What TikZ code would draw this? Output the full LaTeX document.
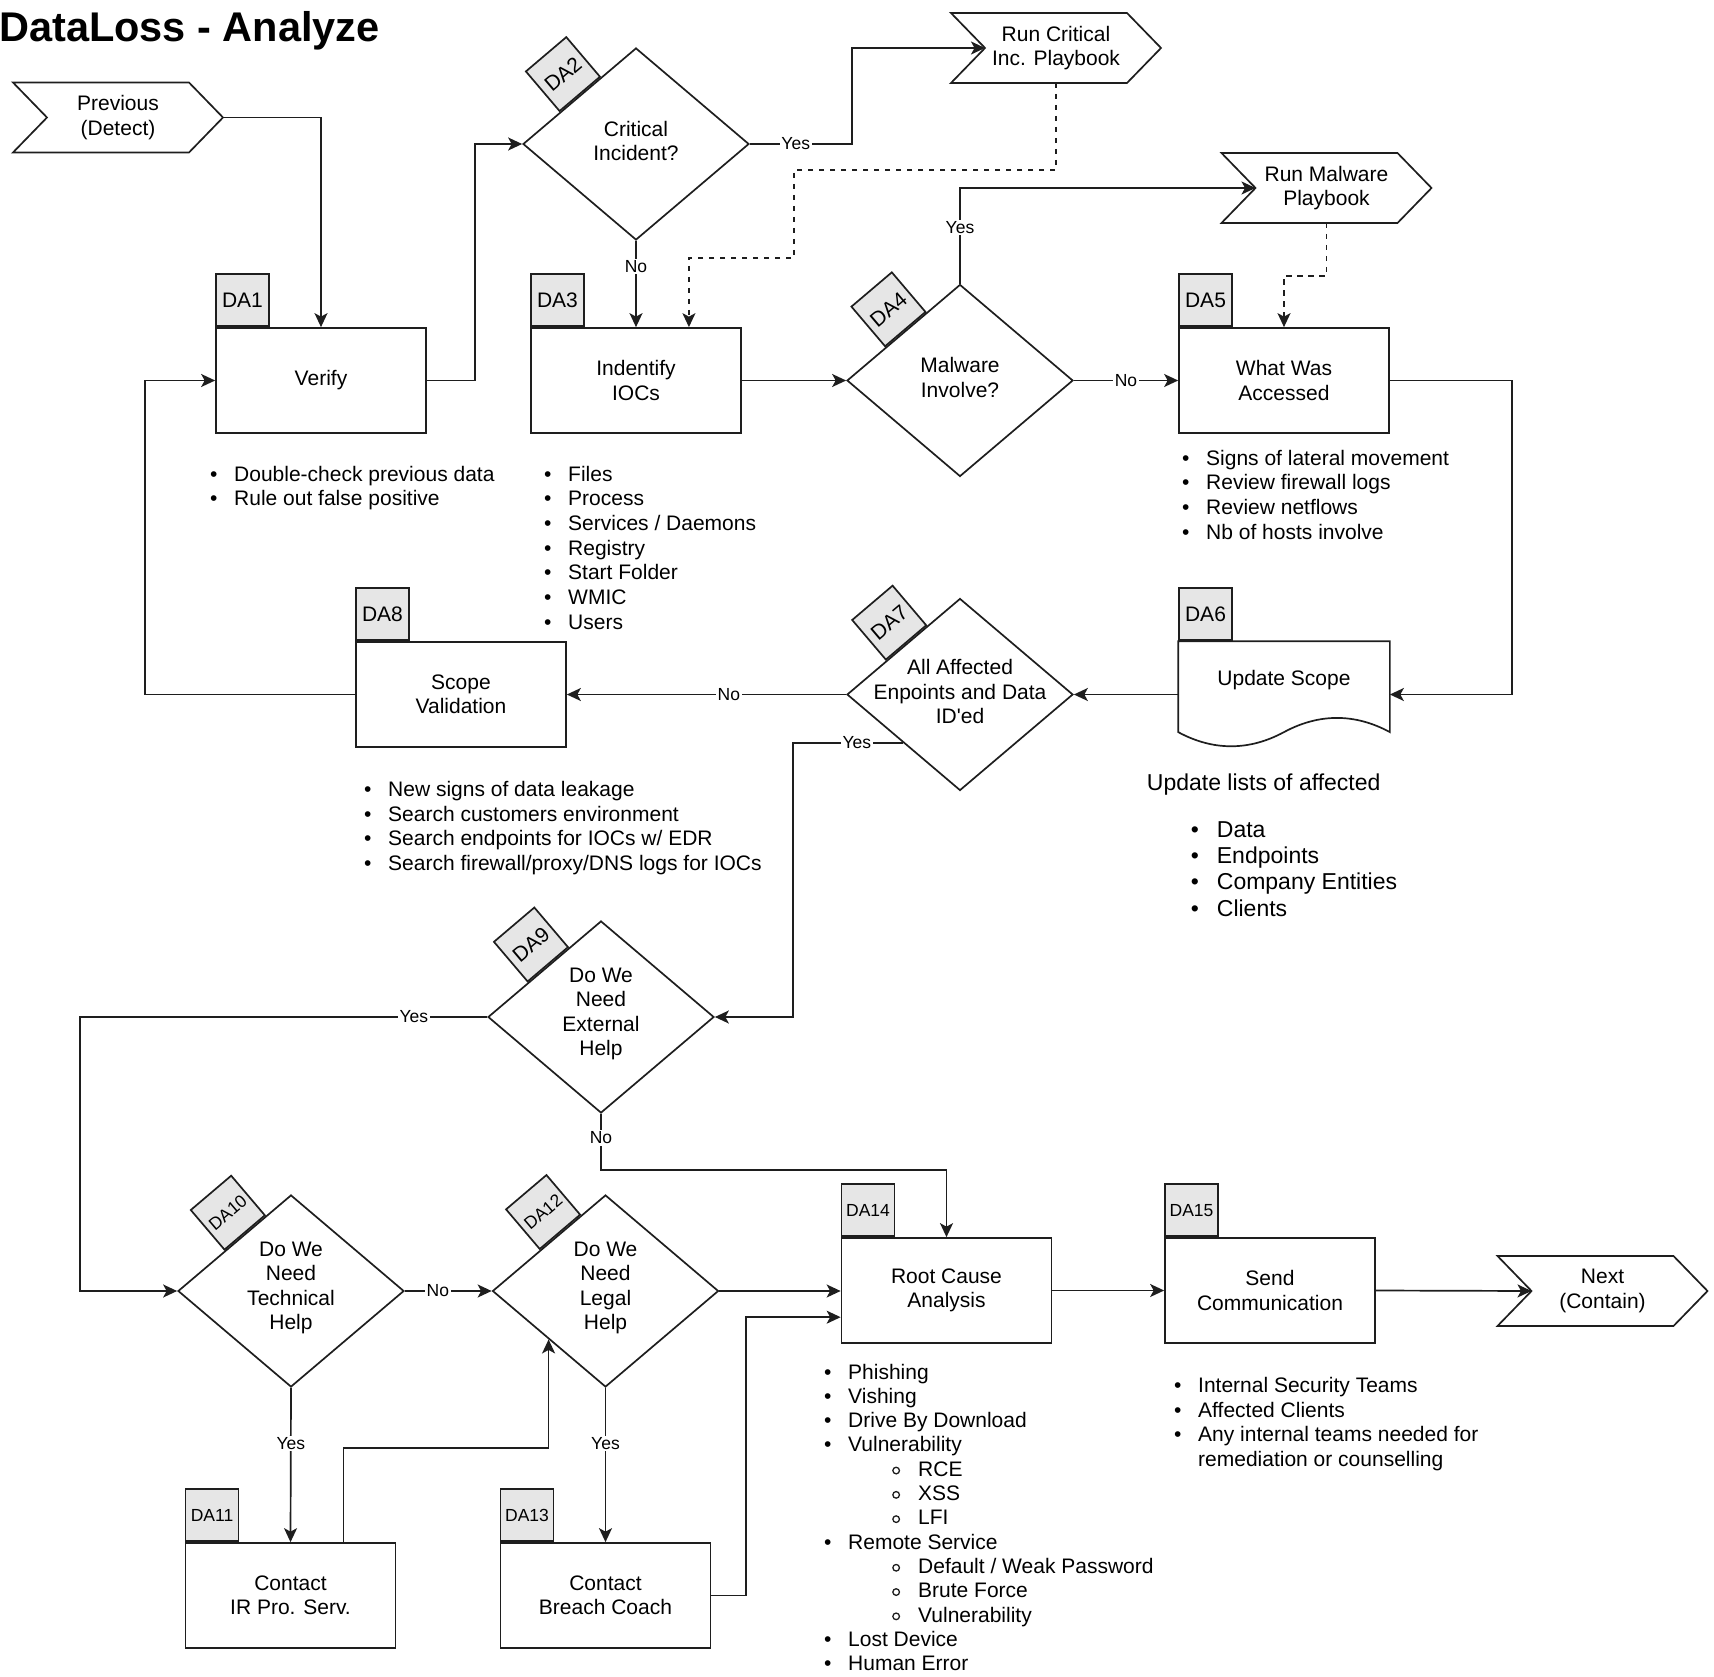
\documentclass[tikz,border=0pt]{standalone}
\usepackage{fontspec}
\setmainfont{Liberation Sans}[Ligatures=TeXOff]
\usetikzlibrary{arrows.meta,calc,shapes.geometric}
\definecolor{tabgray}{RGB}{230,230,230}
\definecolor{linegray}{RGB}{30,30,30}
\newcommand\dlbody{\fontsize{21}{24.5}\selectfont}
\newcommand\dlsmall{\fontsize{17.5}{21}\selectfont}
\newcommand\dlbig{\fontsize{23}{26}\selectfont}
\newcommand\dltitle{\fontsize{41.5}{48}\selectfont\bfseries}
\newcommand\dlring{\raisebox{1.7pt}{\tikz\draw[line width=1.3pt, draw=linegray] (0,0) circle (3.3pt);}}
\newcommand\dlbi[1]{\makebox[24pt][l]{•}#1}
\newcommand\dlsi[1]{\hspace*{68pt}\makebox[26pt][l]{\dlring}#1}
\newcommand\dlci[1]{\hspace*{24pt}#1}
\newcommand\dlbbi[1]{\makebox[26pt][l]{•}#1}
\newcommand\dlchevron[1]{\draw[dlline] (#1.north west) -- ($(#1.north east)+(-34,0)$) -- (#1.east) -- ($(#1.south east)+(-34,0)$) -- (#1.south west) -- ($(#1.west)+(34,0)$) -- cycle;}
\begin{document}
\begin{tikzpicture}[x=1pt,y=-1pt,
  dlline/.style={line width=1.7pt, draw=linegray},
  dlarr/.style={dlline, -{Stealth[length=14pt,width=13pt,inset=3.5pt]}},
  dldash/.style={dash pattern=on 5.5pt off 5.5pt},
  dlbox/.style={dlline, shape=rectangle, minimum width=210pt, minimum height=105pt, inner sep=0pt, align=center, font=\dlbody},
  dltab/.style={dlline, fill=tabgray, shape=rectangle, minimum width=53pt, minimum height=52pt, inner sep=0pt, font=\dlbody},
  dlstab/.style={dltab, font=\dlsmall},
  dldia/.style={dlline, shape=diamond, minimum width=226pt, minimum height=192pt, inner sep=0pt},
  dldtxt/.style={align=center, font=\dlbody, inner sep=0pt, yshift=3pt},
  dlchev/.style={shape=rectangle, minimum width=210pt, minimum height=70pt, inner sep=0pt, outer sep=0pt, align=center, font=\dlbody},
  dllbl/.style={font=\dlsmall, fill=white, inner sep=1.5pt},
  dlitem/.style={font=\dlbody, inner sep=0pt, anchor=base west},
  dlbitem/.style={font=\dlbig, inner sep=0pt, anchor=base west},
]
\useasboundingbox (0,0) rectangle (1714,1677);

% title
\node[font=\dltitle, inner sep=0pt, anchor=base west] (title) at (-1,42) {DataLoss - Analyze};

% chevrons
\node[dlchev] (prev) at (118,117.5) {Previous\\(Detect)};
\node[dlchev] (crit) at (1056,48) {Run Critical\\Inc. Playbook};
\node[dlchev] (malw) at (1326.5,188) {Run Malware\\Playbook};
\node[dlchev] (next) at (1602.5,1291) {Next\\(Contain)};
\dlchevron{prev}
\dlchevron{crit}
\dlchevron{malw}
\dlchevron{next}
\coordinate (critIn) at ($(crit.west)+(34,0)$);
\coordinate (malwIn) at ($(malw.west)+(34,0)$);
\coordinate (nextIn) at ($(next.west)+(34,0)$);

% boxes
\node[dlbox] (verify) at (321,380.5) {Verify};
\node[dlbox] (ioc) at (636,380.5) {Indentify\\IOCs};
\node[dlbox] (what) at (1284,380.5) {What Was\\Accessed};
\node[dlbox, draw=none] (update) at (1284,694.5) {};
\draw[dlline] (update.north west) -- (update.north east) -- ($(update.south east)+(0,-15.75)$)
  .. controls ($(update.south east)+(-35,-34.65)$) and ($(update.south)+(35,-34.65)$) .. ($(update.south)+(0,-15.75)$)
  .. controls ($(update.south)+(-35,3.15)$) and ($(update.south west)+(35,3.15)$) .. ($(update.south west)+(0,-15.75)$) -- cycle;
\node[font=\dlbody, inner sep=0pt] (updtxt) at (1284,680) {Update Scope};
\node[dlbox] (scope) at (461,694.5) {Scope\\Validation};
\node[dlbox] (ir) at (290.5,1595.5) {Contact\\IR Pro. Serv.};
\node[dlbox] (breach) at (605.5,1595.5) {Contact\\Breach Coach};
\node[dlbox] (rca) at (946.5,1290.5) {Root Cause\\Analysis};
\node[dlbox] (comm) at (1270,1290.5) {Send\\Communication};

% box tabs
\node[dltab, anchor=south west] (t1) at (verify.north west) {DA1};
\node[dltab, anchor=south west] (t3) at (ioc.north west) {DA3};
\node[dltab, anchor=south west] (t5) at (what.north west) {DA5};
\node[dltab, anchor=south west] (t6) at (update.north west) {DA6};
\node[dltab, anchor=south west] (t8) at (scope.north west) {DA8};
\node[dlstab, anchor=south west] (t11) at (ir.north west) {DA11};
\node[dlstab, anchor=south west] (t13) at (breach.north west) {DA13};
\node[dlstab, anchor=south west] (t14) at (rca.north west) {DA14};
\node[dlstab, anchor=south west] (t15) at (comm.north west) {DA15};

% diamonds
\node[dldia] (d2) at (636,144) {};
\node[dldtxt] (d2t) at (d2.center) {Critical\\Incident?};
\node[dltab, rotate=40.35, anchor=south west] (t2) at ($(d2.west)!49pt!(d2.north)$) {DA2};

\node[dldia] (d4) at (960,380.5) {};
\node[dldtxt] (d4t) at (d4.center) {Malware\\Involve?};
\node[dltab, rotate=40.35, anchor=south west] (t4) at ($(d4.west)!51pt!(d4.north)$) {DA4};

\node[dldia] (d7) at (960,694.5) {};
\node[dldtxt] (d7t) at (d7.center) {All Affected\\Enpoints and Data\\ID'ed};
\node[dltab, rotate=40.35, anchor=south west] (t7) at ($(d7.west)!52pt!(d7.north)$) {DA7};

\node[dldia] (d9) at (601,1017) {};
\node[dldtxt] (d9t) at (d9.center) {Do We\\Need\\External\\Help};
\node[dltab, rotate=40.35, anchor=south west] (t9) at ($(d9.west)!53pt!(d9.north)$) {DA9};

\node[dldia] (d10) at (291,1291) {};
\node[dldtxt] (d10t) at (d10.center) {Do We\\Need\\Technical\\Help};
\node[dlstab, rotate=40.35, anchor=south west] (t10) at ($(d10.west)!62pt!(d10.north)$) {DA10};

\node[dldia] (d12) at (605.5,1291) {};
\node[dldtxt] (d12t) at (d12.center) {Do We\\Need\\Legal\\Help};
\node[dlstab, rotate=40.35, anchor=south west] (t12) at ($(d12.west)!63pt!(d12.north)$) {DA12};

% connectors
\draw[dlarr] (prev.east) -| (verify.north);
\draw[dlarr] (verify.east) -- ++(48,0) |- (d2.west);
\draw[dlarr] (d2.east) -- node[dllbl,pos=0.45]{Yes} ++(102,0) |- (critIn);
\draw[dlarr] (d2.south) -- node[dllbl,pos=0.3]{No} (ioc.north);
\draw[dlarr,dldash] (crit.south) -- ++(0,87) -- ++(-262,0) -- ++(0,88) -| ($(ioc.north)!0.5!(ioc.north east)$);
\draw[dlarr] (ioc.east) -- (d4.west);
\draw[dlarr] (d4.north) -- node[dllbl,pos=0.59]{Yes} (d4.north |- malwIn) -- (malwIn);
\draw[dlarr,dldash] (malw.south) -- ++(0,53) -| (what.north);
\draw[dlarr] (d4.east) -- node[dllbl]{No} (what.west);
\draw[dlarr] (what.east) -- ++(122,0) |- (update.east);
\draw[dlarr] (update.west) -- (d7.east);
\draw[dlarr] (d7.west) -- node[dllbl,pos=0.42]{No} (scope.east);
\draw[dlarr] (scope.west) -- ++(-210,0) |- (verify.west);
\draw[dlarr] ($(d7.west)!0.5!(d7.south)$) -- node[dllbl,pos=0.42]{Yes} ++(-110,0) |- (d9.east);
\draw[dlarr] (d9.west) -- node[dllbl,pos=0.18]{Yes} ++(-407,0) |- (d10.west);
\draw[dlarr] (d9.south) -- node[dllbl,pos=0.43]{No} ++(0,56) -| (rca.north);
\draw[dlarr] (d10.east) -- node[dllbl,pos=0.38]{No} (d12.west);
\draw[dlarr] (d10.south) -- node[dllbl,pos=0.36]{Yes} (ir.north);
\draw[dlarr] ($(ir.north)!0.5!(ir.north east)$) -- ++(0,-94) -| ($(d12.west)!0.5!(d12.south)$);
\draw[dlarr] (d12.south) -- node[dllbl,pos=0.36]{Yes} (breach.north);
\draw[dlarr] (d12.east) -- (d12.east -| rca.west);
\draw[dlarr] (breach.east) -- ++(34.5,0) |- ($(rca.west)!0.5!(rca.south west)$);
\draw[dlarr] (rca.east) -- (comm.west);
\draw[dlarr] (comm.east) -- (nextIn);

% lists
\foreach \t [count=\i from 0] in {{Double-check previous data},{Rule out false positive}}
  {\node[dlitem] (la-\i) at (210,481+24*\i) {\dlbi{\t}};}
\foreach \t [count=\i from 0] in {{Files},{Process},{Services / Daemons},{Registry},{Start Folder},{WMIC},{Users}}
  {\node[dlitem] (lb-\i) at (544,481+24.67*\i) {\dlbi{\t}};}
\foreach \t [count=\i from 0] in {{Signs of lateral movement},{Review firewall logs},{Review netflows},{Nb of hosts involve}}
  {\node[dlitem] (lc-\i) at (1182,465+24.67*\i) {\dlbi{\t}};}
\foreach \t [count=\i from 0] in {{New signs of data leakage},{Search customers environment},{Search endpoints for IOCs w/ EDR},{Search firewall/proxy/DNS logs for IOCs}}
  {\node[dlitem] (ld-\i) at (364,796.5+24.67*\i) {\dlbi{\t}};}
\foreach \t [count=\i from 0] in {{\dlbi{Phishing}},{\dlbi{Vishing}},{\dlbi{Drive By Download}},{\dlbi{Vulnerability}},{\dlsi{RCE}},{\dlsi{XSS}},{\dlsi{LFI}},{\dlbi{Remote Service}},{\dlsi{Default / Weak Password}},{\dlsi{Brute Force}},{\dlsi{Vulnerability}},{\dlbi{Lost Device}},{\dlbi{Human Error}}}
  {\node[dlitem] (le-\i) at (824,1379+24.3*\i) {\t};}
\foreach \t [count=\i from 0] in {{\dlbi{Internal Security Teams}},{\dlbi{Affected Clients}},{\dlbi{Any internal teams needed for}},{\dlci{remediation or counselling}}}
  {\node[dlitem] (lf-\i) at (1174,1392.5+24.5*\i) {\t};}
\node[dlbitem] (lgh) at (1146.7,790.5) {Update lists of affected};
\foreach \t [count=\i from 0] in {{Data},{Endpoints},{Company Entities},{Clients}}
  {\node[dlbitem] (lg-\i) at (1190.7,837.7+26.1*\i) {\dlbbi{\t}};}
\end{tikzpicture}
\end{document}
